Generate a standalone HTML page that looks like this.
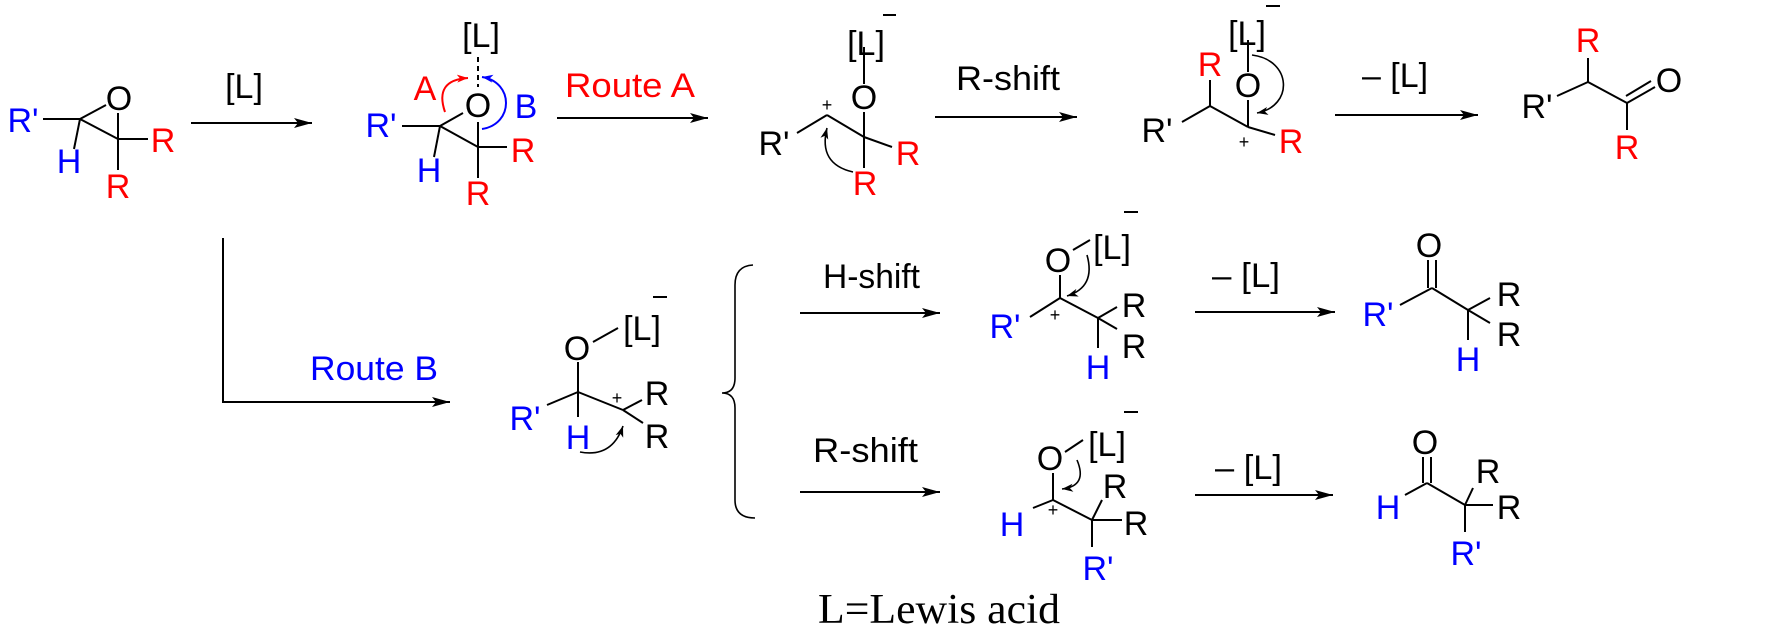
<!DOCTYPE html>
<html>
<head>
<meta charset="utf-8">
<style>
html,body{margin:0;padding:0;background:#fff;}
svg{display:block;}
text{font-family:"Liberation Sans",Arial,sans-serif;font-size:34px;}
text.p{font-size:18px;}
.r{fill:#ff0000;}
.b{fill:#0000ff;}
.k{fill:#000;}
line,path.bd{stroke:#000;stroke-width:2;fill:none;}
</style>
</head>
<body>
<svg width="1780" height="630" viewBox="0 0 1780 630" xmlns="http://www.w3.org/2000/svg">
<defs>
<marker id="ah" markerWidth="20" markerHeight="12" refX="18" refY="6" orient="auto" markerUnits="userSpaceOnUse"><path d="M0,1 L18,6 L0,11 L4,6 Z" fill="#000"/></marker>
<marker id="ahs" markerWidth="12" markerHeight="10" refX="11" refY="5" orient="auto" markerUnits="userSpaceOnUse"><path d="M0,1 L11,5 L0,9 L3,5 Z" fill="#000"/></marker>
<marker id="ahr" markerWidth="12" markerHeight="10" refX="11" refY="5" orient="auto" markerUnits="userSpaceOnUse"><path d="M0,1 L11,5 L0,9 L3,5 Z" fill="#ff0000"/></marker>
<marker id="ahb" markerWidth="12" markerHeight="10" refX="11" refY="5" orient="auto" markerUnits="userSpaceOnUse"><path d="M0,1 L11,5 L0,9 L3,5 Z" fill="#0000ff"/></marker>
</defs>

<!-- ===== Epoxide 1 ===== -->
<g>
<line x1="43" y1="119" x2="80" y2="119"/>
<line x1="80" y1="119" x2="106" y2="105"/>
<line x1="80" y1="119" x2="118" y2="139"/>
<line x1="118" y1="139" x2="118" y2="113"/>
<line x1="118" y1="139" x2="148" y2="139"/>
<line x1="118" y1="139" x2="118" y2="170"/>
<line x1="80" y1="119" x2="74" y2="149"/>
<text class="b" x="23" y="132" text-anchor="middle">R'</text>
<text class="b" x="69" y="173" text-anchor="middle">H</text>
<text class="k" x="119" y="110" text-anchor="middle">O</text>
<text class="r" x="163" y="152" text-anchor="middle">R</text>
<text class="r" x="118" y="198" text-anchor="middle">R</text>
</g>

<!-- arrow 1 -->
<line x1="191" y1="123" x2="312" y2="123" marker-end="url(#ah)"/>
<text class="k" x="244" y="98" text-anchor="middle">[L]</text>

<!-- ===== Epoxide 2 ===== -->
<g>
<line x1="402" y1="126" x2="440" y2="126"/>
<line x1="440" y1="126" x2="463" y2="113"/>
<line x1="440" y1="126" x2="478" y2="147"/>
<line x1="478" y1="147" x2="478" y2="122"/>
<line x1="478" y1="147" x2="507" y2="147"/>
<line x1="478" y1="147" x2="478" y2="178"/>
<line x1="440" y1="126" x2="434" y2="157"/>
<line x1="478" y1="57" x2="478" y2="87" stroke-dasharray="5,4"/>
<text class="k" x="481" y="47" text-anchor="middle">[L]</text>
<text class="b" x="381" y="137" text-anchor="middle">R'</text>
<text class="b" x="429" y="182" text-anchor="middle">H</text>
<text class="k" x="478" y="117" text-anchor="middle">O</text>
<text class="r" x="523" y="162" text-anchor="middle">R</text>
<text class="r" x="478" y="205" text-anchor="middle">R</text>
<text class="r" x="425" y="100" text-anchor="middle">A</text>
<text class="b" x="526" y="118" text-anchor="middle">B</text>
<path d="M445 112 Q434 80 468 78" stroke="#ff0000" stroke-width="2" fill="none" marker-end="url(#ahr)"/>
<path d="M482 129 C514 124 514 82 482 77" stroke="#0000ff" stroke-width="2" fill="none" marker-end="url(#ahb)"/>
</g>

<!-- Route A -->
<line x1="557" y1="118" x2="708" y2="118" marker-end="url(#ah)"/>
<text class="r" x="565" y="97" textLength="130" lengthAdjust="spacingAndGlyphs">Route A</text>

<!-- ===== Cation A ===== -->
<g>
<line x1="864" y1="47" x2="864" y2="84"/>
<text class="k" x="866" y="55" text-anchor="middle">[L]</text>
<line x1="883" y1="15" x2="896" y2="15" stroke-width="1.6"/>
<text class="k" x="864" y="109" text-anchor="middle">O</text>
<line x1="864" y1="112" x2="864" y2="168"/>
<line x1="797" y1="133" x2="827" y2="115"/>
<line x1="827" y1="115" x2="864" y2="137"/>
<line x1="864" y1="137" x2="892" y2="147"/>
<text class="p k" x="827" y="111" text-anchor="middle">+</text>
<text class="k" x="774" y="155" text-anchor="middle">R'</text>
<text class="r" x="908" y="165" text-anchor="middle">R</text>
<text class="r" x="865" y="195" text-anchor="middle">R</text>
<path d="M853 172 Q818 164 827 128" stroke="#000" stroke-width="1.6" fill="none" marker-end="url(#ahs)"/>
</g>

<!-- R-shift top -->
<line x1="935" y1="117" x2="1077" y2="117" marker-end="url(#ah)"/>
<text class="k" x="956" y="90" textLength="104" lengthAdjust="spacingAndGlyphs">R-shift</text>

<!-- ===== Structure A2 ===== -->
<g>
<line x1="1248" y1="40" x2="1248" y2="72"/>
<text class="k" x="1247" y="45" text-anchor="middle">[L]</text>
<line x1="1266" y1="6" x2="1280" y2="6" stroke-width="1.6"/>
<text class="k" x="1248" y="97" text-anchor="middle">O</text>
<line x1="1248" y1="100" x2="1248" y2="127"/>
<text class="r" x="1210" y="76" text-anchor="middle">R</text>
<line x1="1210" y1="80" x2="1210" y2="106"/>
<line x1="1182" y1="122" x2="1210" y2="106"/>
<line x1="1210" y1="106" x2="1248" y2="127"/>
<line x1="1248" y1="127" x2="1275" y2="135"/>
<text class="k" x="1157" y="142" text-anchor="middle">R'</text>
<text class="r" x="1291" y="153" text-anchor="middle">R</text>
<text class="p k" x="1244" y="148" text-anchor="middle">+</text>
<path d="M1252 55 C1292 60 1294 106 1257 113" stroke="#000" stroke-width="1.6" fill="none" marker-end="url(#ahs)"/>
</g>

<!-- -[L] top -->
<line x1="1335" y1="115" x2="1478" y2="115" marker-end="url(#ah)"/>
<text class="k" x="1362" y="87" textLength="66" lengthAdjust="spacingAndGlyphs">– [L]</text>

<!-- ===== Product A ===== -->
<g>
<text class="r" x="1588" y="52" text-anchor="middle">R</text>
<line x1="1588" y1="58" x2="1588" y2="82"/>
<line x1="1557" y1="96" x2="1588" y2="82"/>
<text class="k" x="1537" y="118" text-anchor="middle">R'</text>
<line x1="1588" y1="82" x2="1627" y2="103"/>
<line x1="1627" y1="103" x2="1627" y2="130"/>
<text class="r" x="1627" y="159" text-anchor="middle">R</text>
<line x1="1627" y1="103" x2="1655" y2="87"/>
<line x1="1626" y1="96" x2="1651" y2="81"/>
<text class="k" x="1669" y="92" text-anchor="middle">O</text>
</g>

<!-- ===== Bottom: L-shaped arrow ===== -->
<path class="bd" d="M223 238 V402 H450" marker-end="url(#ah)"/>
<text class="b" x="310" y="380" textLength="128" lengthAdjust="spacingAndGlyphs">Route B</text>

<!-- Cation B -->
<g>
<text class="k" x="577" y="360" text-anchor="middle">O</text>
<text class="k" x="642" y="340" text-anchor="middle">[L]</text>
<line x1="653" y1="297" x2="667" y2="297" stroke-width="1.6"/>
<line x1="593" y1="342" x2="618" y2="328"/>
<line x1="578" y1="362" x2="578" y2="392"/>
<line x1="547" y1="405" x2="578" y2="392"/>
<line x1="578" y1="392" x2="578" y2="417"/>
<line x1="578" y1="392" x2="623" y2="410"/>
<line x1="623" y1="410" x2="642" y2="400"/>
<line x1="623" y1="410" x2="643" y2="423"/>
<text class="b" x="525" y="430" text-anchor="middle">R'</text>
<text class="b" x="578" y="449" text-anchor="middle">H</text>
<text class="p k" x="617" y="404" text-anchor="middle">+</text>
<text class="k" x="657" y="405" text-anchor="middle">R</text>
<text class="k" x="657" y="448" text-anchor="middle">R</text>
<path d="M580 452 Q612 458 623 426" stroke="#000" stroke-width="1.6" fill="none" marker-end="url(#ahs)"/>
</g>

<!-- Brace -->
<path d="M753 265 Q735 266 735 285 V378 Q735 393 722 393 Q735 393 735 408 V500 Q735 518 755 518" stroke="#000" stroke-width="1.6" fill="none"/>

<!-- H-shift row -->
<line x1="800" y1="313" x2="940" y2="313" marker-end="url(#ah)"/>
<text class="k" x="823" y="288" textLength="97" lengthAdjust="spacingAndGlyphs">H-shift</text>
<g>
<text class="k" x="1058" y="272" text-anchor="middle">O</text>
<text class="k" x="1112" y="259" text-anchor="middle">[L]</text>
<line x1="1124" y1="212" x2="1138" y2="212" stroke-width="1.6"/>
<line x1="1073" y1="250" x2="1090" y2="240"/>
<line x1="1060" y1="275" x2="1060" y2="298"/>
<line x1="1030" y1="317" x2="1060" y2="298"/>
<line x1="1060" y1="298" x2="1098" y2="318"/>
<line x1="1098" y1="318" x2="1117" y2="307"/>
<line x1="1098" y1="318" x2="1117" y2="329"/>
<line x1="1098" y1="318" x2="1098" y2="348"/>
<text class="b" x="1005" y="338" text-anchor="middle">R'</text>
<text class="p k" x="1055" y="321" text-anchor="middle">+</text>
<text class="k" x="1134" y="317" text-anchor="middle">R</text>
<text class="k" x="1134" y="358" text-anchor="middle">R</text>
<text class="b" x="1098" y="379" text-anchor="middle">H</text>
<path d="M1087 255 Q1096 287 1067 296" stroke="#000" stroke-width="1.6" fill="none" marker-end="url(#ahs)"/>
</g>
<line x1="1195" y1="312" x2="1335" y2="312" marker-end="url(#ah)"/>
<text class="k" x="1212" y="287" textLength="68" lengthAdjust="spacingAndGlyphs">– [L]</text>
<g>
<text class="k" x="1429" y="257" text-anchor="middle">O</text>
<line x1="1428" y1="260" x2="1428" y2="288"/>
<line x1="1436" y1="260" x2="1436" y2="288"/>
<line x1="1400" y1="305" x2="1432" y2="288"/>
<line x1="1432" y1="288" x2="1468" y2="310"/>
<line x1="1468" y1="310" x2="1490" y2="298"/>
<line x1="1468" y1="310" x2="1490" y2="323"/>
<line x1="1468" y1="310" x2="1468" y2="340"/>
<text class="b" x="1378" y="326" text-anchor="middle">R'</text>
<text class="k" x="1509" y="306" text-anchor="middle">R</text>
<text class="k" x="1509" y="346" text-anchor="middle">R</text>
<text class="b" x="1468" y="371" text-anchor="middle">H</text>
</g>

<!-- R-shift row -->
<line x1="800" y1="492" x2="940" y2="492" marker-end="url(#ah)"/>
<text class="k" x="813" y="462" textLength="105" lengthAdjust="spacingAndGlyphs">R-shift</text>
<g>
<text class="k" x="1050" y="470" text-anchor="middle">O</text>
<text class="k" x="1107" y="456" text-anchor="middle">[L]</text>
<line x1="1124" y1="412" x2="1138" y2="412" stroke-width="1.6"/>
<line x1="1065" y1="452" x2="1083" y2="440"/>
<line x1="1053" y1="473" x2="1053" y2="500"/>
<line x1="1033" y1="508" x2="1053" y2="500"/>
<line x1="1053" y1="500" x2="1092" y2="520"/>
<line x1="1092" y1="520" x2="1102" y2="500"/>
<line x1="1092" y1="520" x2="1122" y2="520"/>
<line x1="1092" y1="520" x2="1092" y2="547"/>
<text class="b" x="1012" y="536" text-anchor="middle">H</text>
<text class="p k" x="1053" y="516" text-anchor="middle">+</text>
<text class="k" x="1115" y="498" text-anchor="middle">R</text>
<text class="k" x="1136" y="535" text-anchor="middle">R</text>
<text class="b" x="1098" y="580" text-anchor="middle">R'</text>
<path d="M1077 460 Q1088 486 1062 489" stroke="#000" stroke-width="1.6" fill="none" marker-end="url(#ahs)"/>
</g>
<line x1="1195" y1="495" x2="1333" y2="495" marker-end="url(#ah)"/>
<text class="k" x="1215" y="479" textLength="67" lengthAdjust="spacingAndGlyphs">– [L]</text>
<g>
<text class="k" x="1425" y="454" text-anchor="middle">O</text>
<line x1="1423" y1="457" x2="1423" y2="483"/>
<line x1="1431" y1="457" x2="1431" y2="483"/>
<line x1="1405" y1="495" x2="1427" y2="483"/>
<line x1="1427" y1="483" x2="1465" y2="505"/>
<line x1="1465" y1="505" x2="1473" y2="488"/>
<line x1="1465" y1="505" x2="1493" y2="505"/>
<line x1="1465" y1="505" x2="1465" y2="532"/>
<text class="b" x="1388" y="519" text-anchor="middle">H</text>
<text class="k" x="1488" y="483" text-anchor="middle">R</text>
<text class="k" x="1509" y="519" text-anchor="middle">R</text>
<text class="b" x="1466" y="565" text-anchor="middle">R'</text>
</g>

<!-- Caption -->
<text x="818" y="623" style="font-family:'Liberation Serif','Times New Roman',serif;font-size:42px;" textLength="242" lengthAdjust="spacingAndGlyphs" fill="#000">L=Lewis acid</text>
</svg>
</body>
</html>
